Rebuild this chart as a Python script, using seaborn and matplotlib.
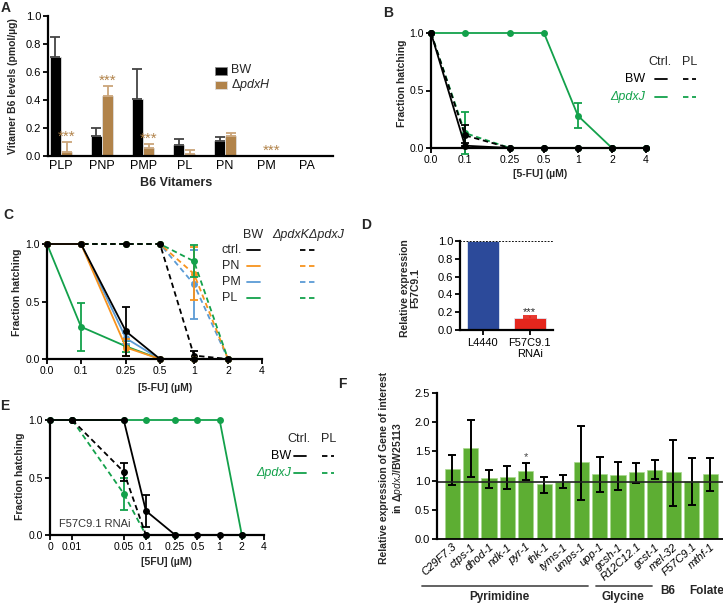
import numpy as np
import pandas as pd
import matplotlib
matplotlib.use("Agg")
import matplotlib.pyplot as plt
import seaborn as sns
from matplotlib.lines import Line2D
from matplotlib.patches import Rectangle

sns.set_theme(style="ticks")
plt.rcParams["font.family"] = ["Liberation Sans", "DejaVu Sans"]
plt.rcParams["mathtext.fontset"] = "custom"
plt.rcParams["mathtext.rm"] = "Liberation Sans"
plt.rcParams["mathtext.it"] = "Liberation Sans:italic"
plt.rcParams["mathtext.bf"] = "Liberation Sans:bold"

# ---------------- data ----------------
# Panel A
vitamers = ["PLP", "PNP", "PMP", "PL", "PN", "PM", "PA"]
a_bw = [0.71, 0.14, 0.41, 0.08, 0.11, 0.005, 0.005]
a_bw_err = [0.14, 0.06, 0.21, 0.04, 0.025, 0.0, 0.0]
a_pdxh = [0.03, 0.43, 0.06, 0.015, 0.145, 0.0, 0.003]
a_pdxh_err = [0.07, 0.07, 0.025, 0.025, 0.02, 0.0, 0.0]
a_stars = ["***", "***", "***", "", "", "***", ""]

# Panel B
b_conc = [0, 0.1, 0.25, 0.5, 1, 2, 4]
b_conc_labels = ["0.0", "0.1", "0.25", "0.5", "1", "2", "4"]
b_bw_ctrl = [1.0, 0.02, 0.0, 0.0, 0.0, 0.0, 0.0]
b_bw_ctrl_err = [0, 0.02, 0, 0, 0, 0, 0]
b_bw_pl = [1.0, 0.11, 0.0, 0.0, 0.0, 0.0, 0.0]
b_bw_pl_err = [0, 0.09, 0, 0, 0, 0, 0]
b_pdxj_ctrl = [1.0, 1.0, 1.0, 1.0, 0.28, 0.0, 0.0]
b_pdxj_ctrl_err = [0, 0, 0, 0, 0.11, 0, 0]
b_pdxj_pl = [1.0, 0.13, 0.0, 0.0, 0.0, 0.0, 0.0]
b_pdxj_pl_err = [0, 0.18, 0, 0, 0, 0, 0]

# Panel C
c_conc = [0, 0.1, 0.25, 0.5, 1, 2]
c_conc_ticks = [0, 0.1, 0.25, 0.5, 1, 2, 4]
c_conc_labels = ["0.0", "0.1", "0.25", "0.5", "1", "2", "4"]
c_bw_ctrl = [1.0, 1.0, 0.24, 0.0, 0.0, 0.0]
c_bw_ctrl_err = [0, 0, 0.21, 0, 0, 0]
c_bw_pn = [1.0, 1.0, 0.10, 0.0, 0.0, 0.0]
c_bw_pn_err = [0, 0, 0.07, 0, 0, 0]
c_bw_pm = [1.0, 1.0, 0.18, 0.0, 0.0, 0.0]
c_bw_pm_err = [0, 0, 0.05, 0, 0, 0]
c_bw_pl = [1.0, 0.28, 0.11, 0.0, 0.0, 0.0]
c_bw_pl_err = [0, 0.21, 0.05, 0, 0, 0]
c_kj_ctrl = [1.0, 1.0, 1.0, 1.0, 0.03, 0.0]
c_kj_ctrl_err = [0, 0, 0, 0, 0.04, 0]
c_kj_pn = [1.0, 1.0, 1.0, 1.0, 0.74, 0.0]
c_kj_pn_err = [0, 0, 0, 0, 0.23, 0]
c_kj_pm = [1.0, 1.0, 1.0, 1.0, 0.65, 0.0]
c_kj_pm_err = [0, 0, 0, 0, 0.30, 0]
c_kj_pl = [1.0, 1.0, 1.0, 1.0, 0.85, 0.0]
c_kj_pl_err = [0, 0, 0, 0, 0.14, 0]

# Panel D
d_groups = ["L4440", "F57C9.1\nRNAi"]
d_values = [1.0, 0.14]
d_err = [0.0, 0.02]

# Panel E
e_conc = [0, 0.01, 0.05, 0.1, 0.25, 0.5, 1, 2]
e_conc_ticks = [0, 0.01, 0.05, 0.1, 0.25, 0.5, 1, 2, 4]
e_conc_labels = ["0", "0.01", "0.05", "0.1", "0.25", "0.5", "1", "2", "4"]
e_bw_ctrl = [1.0, 1.0, 1.0, 0.21, 0.0, 0.0, 0.0, 0.0]
e_bw_ctrl_err = [0, 0, 0, 0.14, 0, 0, 0, 0]
e_bw_pl = [np.nan, 1.0, 0.55, 0.0, np.nan, np.nan, np.nan, np.nan]
e_bw_pl_err = [0, 0, 0.08, 0, 0, 0, 0, 0]
e_pdxj_ctrl = [1.0, 1.0, 1.0, 1.0, 1.0, 1.0, 1.0, 0.0]
e_pdxj_ctrl_err = [0, 0, 0, 0, 0, 0, 0, 0]
e_pdxj_pl = [np.nan, 1.0, 0.36, 0.0, 0.0, np.nan, np.nan, np.nan]
e_pdxj_pl_err = [0, 0, 0.14, 0, 0, 0, 0, 0]

# Panel F
f_genes = ["C29F7.3", "ctps-1", "dhod-1", "ndk-1", "pyr-1", "thk-1", "tyms-1", "umps-1",
           "upp-1", "gcsh-1", "R12C12.1", "gcst-1", "mel-32", "F57C9.1", "mthf-1"]
f_values = [1.20, 1.56, 1.04, 1.07, 1.16, 0.94, 0.98, 1.31, 1.12, 1.09, 1.14, 1.19, 1.15, 1.00, 1.12]
f_low = [0.93, 1.06, 0.87, 0.85, 1.01, 0.78, 0.87, 0.66, 0.81, 0.84, 0.96, 1.02, 0.57, 0.58, 0.82]
f_high = [1.44, 2.03, 1.19, 1.25, 1.30, 1.07, 1.10, 1.93, 1.41, 1.31, 1.30, 1.36, 1.70, 1.39, 1.39]

# ---------------- layout helpers ----------------
W, H = 723, 604
fig = plt.figure(figsize=(W / 100, H / 100), dpi=100)
fig.patch.set_facecolor("white")


def axes_px(x0, y0, x1, y1):
    return fig.add_axes([x0 / W, 1 - y1 / H, (x1 - x0) / W, (y1 - y0) / H])


def ftext(x, y, s, **kw):
    kw.setdefault("ha", "center")
    kw.setdefault("va", "center")
    return fig.text(x / W, 1 - y / H, s, **kw)


def fline(x0, x1, y, **kw):
    fig.add_artist(Line2D([x0 / W, x1 / W], [1 - y / H, 1 - y / H], **kw))


def style_ax(ax, fs=7.5):
    sns.despine(ax=ax)
    for s in ["left", "bottom"]:
        ax.spines[s].set_linewidth(1.6)
        ax.spines[s].set_color("black")
    ax.tick_params(axis="both", labelsize=fs, width=1.3, length=3.5, color="black",
                   pad=1.5, labelcolor="black")
    ax.set_facecolor("white")


def letter(x, y, s):
    ftext(x, y, s, fontsize=10, fontweight="bold")


BLACK = "#000000"
GREEN = "#13a14b"
ORANGE = "#f7931e"
BLUE = "#5b9bd5"
TAN = "#b1834a"


def series(ax, xs, ys, errs, color, ls, xt):
    pos = np.array([xt(x) for x in xs], dtype=float)
    ys = np.array(ys, dtype=float)
    errs = np.array(errs, dtype=float)
    ok = ~np.isnan(ys)
    sns.lineplot(x=pos[ok], y=ys[ok], color=color, linestyle=ls, linewidth=1.3,
                 marker="o", markersize=5, markeredgewidth=0, errorbar=None,
                 sort=False, ax=ax, clip_on=False, legend=False)
    e = ok & (errs > 0)
    if e.any():
        ax.errorbar(pos[e], ys[e], yerr=errs[e], fmt="none", ecolor=color,
                    elinewidth=1.3, capsize=3, capthick=1.3, clip_on=False)


def line_legend(x_text_right, rows, x_solid, x_dash):
    for (label, y, color, kw) in rows:
        ftext(x_text_right, y, label, fontsize=9, ha="right", color=color, **kw)
        fline(x_solid[0], x_solid[1], y, color=color, lw=1.3)
        fline(x_dash[0], x_dash[1], y, color=color, lw=1.3, linestyle=(0, (3, 2)))


# ---------------- Panel A ----------------
axA = axes_px(48, 16, 333, 156)
dfA = pd.DataFrame({
    "vitamer": vitamers * 2,
    "value": a_bw + a_pdxh,
    "strain": ["BW"] * len(vitamers) + ["pdxH"] * len(vitamers),
})
sns.barplot(data=dfA, x="vitamer", y="value", hue="strain", palette=[BLACK, TAN],
            saturation=1, width=0.55, errorbar=None, ax=axA, legend=False,
            edgecolor="#dddddd", linewidth=0.6)
err_cols = ["#444444", "#caa57a"]
for cont, errs, ec in zip(axA.containers, [a_bw_err, a_pdxh_err], err_cols):
    for p, e in zip(cont.patches, errs):
        if e > 0:
            cx = p.get_x() + p.get_width() / 2
            axA.errorbar([cx], [p.get_height()], yerr=[[0], [e]], fmt="none", ecolor=ec,
                         elinewidth=1.3, capsize=3.5, capthick=1.3)
for p, e, s in zip(axA.containers[1].patches, a_pdxh_err, a_stars):
    if s:
        cx = p.get_x() + p.get_width() / 2
        axA.text(cx, p.get_height() + e - 0.01, s, ha="center", va="bottom",
                 color=TAN, fontsize=11)
axA.set_ylim(0, 1.0)
axA.set_xlim(-0.32, 6.63)
axA.set_yticks([0, 0.2, 0.4, 0.6, 0.8, 1.0])
axA.set_yticklabels(["0.0", "0.2", "0.4", "0.6", "0.8", "1.0"])
axA.set_xlabel("")
axA.set_ylabel("")
style_ax(axA, fs=8)
axA.tick_params(axis="x", length=0, labelsize=9, pad=3)
ftext(13, 86, "Vitamer B6 levels (pmol/µg)", rotation=90, fontsize=7.5, fontweight="bold")
ftext(176, 183, "B6 Vitamers", fontsize=9, fontweight="bold")
# legend
fig.add_artist(Rectangle((215 / W, 1 - 74.5 / H), 12 / W, 8 / H, transform=fig.transFigure,
                         facecolor=BLACK, edgecolor="#888888", lw=0.6))
fig.add_artist(Rectangle((215 / W, 1 - 88.5 / H), 12 / W, 8 / H, transform=fig.transFigure,
                         facecolor=TAN, edgecolor="#dddddd", lw=0.6))
ftext(231, 70, "BW", fontsize=9, ha="left")
ftext(231, 85, "Δ$\\it{pdxH}$", fontsize=9, ha="left")
letter(6, 8, "A")

# ---------------- Panel B ----------------
xtB = lambda x: 0.0 if x == 0 else 1 + np.log2(x / 0.1)
axB = axes_px(431, 33, 646, 148)
series(axB, b_conc, b_pdxj_ctrl, b_pdxj_ctrl_err, GREEN, "-", xtB)
series(axB, b_conc, b_pdxj_pl, b_pdxj_pl_err, GREEN, (0, (3, 2)), xtB)
series(axB, b_conc, b_bw_ctrl, b_bw_ctrl_err, BLACK, "-", xtB)
series(axB, b_conc, b_bw_pl, b_bw_pl_err, BLACK, (0, (3, 2)), xtB)
axB.set_xlim(0, xtB(4))
axB.set_ylim(0, 1)
axB.set_xticks([xtB(x) for x in b_conc])
axB.set_xticklabels(b_conc_labels)
axB.set_yticks([0, 0.5, 1.0])
axB.set_yticklabels(["0.0", "0.5", "1.0"])
style_ax(axB)
ftext(402, 83, "Fraction hatching", rotation=90, fontsize=7.5, fontweight="bold")
ftext(540, 174, "[5-FU] (µM)", fontsize=7.5, fontweight="bold")
ftext(660, 62, "Ctrl.", fontsize=9)
ftext(690, 62, "PL", fontsize=9)
line_legend(645, [("BW", 79, BLACK, {}), ("ΔpdxJ", 97, GREEN, {"style": "italic"})],
            (655, 667), (683, 696))
letter(388, 13, "B")

# ---------------- Panel C ----------------
axC = axes_px(47, 244, 262, 359)
xtC = xtB
series(axC, c_conc, c_kj_pm, c_kj_pm_err, BLUE, (0, (3, 2)), xtC)
series(axC, c_conc, c_kj_pn, c_kj_pn_err, ORANGE, (0, (3, 2)), xtC)
series(axC, c_conc, c_kj_pl, c_kj_pl_err, GREEN, (0, (3, 2)), xtC)
series(axC, c_conc, c_kj_ctrl, c_kj_ctrl_err, BLACK, (0, (3, 2)), xtC)
series(axC, c_conc, c_bw_pl, c_bw_pl_err, GREEN, "-", xtC)
series(axC, c_conc, c_bw_pm, c_bw_pm_err, BLUE, "-", xtC)
series(axC, c_conc, c_bw_pn, c_bw_pn_err, ORANGE, "-", xtC)
series(axC, c_conc, c_bw_ctrl, c_bw_ctrl_err, BLACK, "-", xtC)
axC.set_xlim(0, xtC(4))
axC.set_ylim(0, 1)
axC.set_xticks([xtC(x) for x in c_conc_ticks])
axC.set_xticklabels(c_conc_labels)
axC.set_yticks([0, 0.5, 1.0])
axC.set_yticklabels(["0.0", "0.5", "1.0"])
style_ax(axC)
ftext(17, 292, "Fraction hatching", rotation=90, fontsize=7.5, fontweight="bold")
ftext(165, 388, "[5-FU] (µM)", fontsize=7.5, fontweight="bold")
ftext(253, 235, "BW", fontsize=9)
ftext(308, 235, "ΔpdxKΔpdxJ", fontsize=9, style="italic")
for lab, y, col in [("ctrl.", 250, BLACK), ("PN", 266, ORANGE), ("PM", 282, BLUE), ("PL", 298, GREEN)]:
    ftext(222, y, lab, fontsize=9, ha="left")
    fline(247, 260, y, color=col, lw=1.3)
    fline(300, 315, y, color=col, lw=1.3, linestyle=(0, (3, 2)))
letter(8, 215, "C")

# ---------------- Panel D ----------------
axD = axes_px(460, 241, 553, 330)
sns.barplot(x=d_groups, y=d_values, hue=d_groups, palette=["#2c4a9a", "#e5261d"],
            saturation=1, width=0.69, errorbar=None, ax=axD, legend=False,
            edgecolor="#dfe6f2", linewidth=0.6)
axD.errorbar([1], [d_values[1]], yerr=[[0], [d_err[1]]], fmt="none", ecolor="#e5261d",
             elinewidth=1.3, capsize=5, capthick=1.3)
axD.text(1, d_values[1] + d_err[1] - 0.01, "***", ha="center", va="bottom", fontsize=8)
axD.axhline(1.0, color="black", lw=1.3, linestyle=(0, (1, 0.8)))
axD.set_xlim(-0.49, 1.5)
axD.set_ylim(0, 1.0)
axD.set_yticks([0, 0.2, 0.4, 0.6, 0.8, 1.0])
axD.set_yticklabels(["0.0", "0.2", "0.4", "0.6", "0.8", "1.0"])
style_ax(axD, fs=8)
axD.tick_params(axis="x", labelsize=8, pad=2)
ftext(410, 288, "Relative expression\nF57C9.1", rotation=90, fontsize=7.5,
      fontweight="bold", linespacing=1.1)
letter(366, 225, "D")

# ---------------- Panel E ----------------
xtE = lambda x: 0.0 if x == 0 else 1 + np.log2(x / 0.01)
axE = axes_px(50, 420, 264, 535)
series(axE, e_conc, e_pdxj_ctrl, e_pdxj_ctrl_err, GREEN, "-", xtE)
series(axE, e_conc, e_pdxj_pl, e_pdxj_pl_err, GREEN, (0, (3, 2)), xtE)
series(axE, e_conc, e_bw_pl, e_bw_pl_err, BLACK, (0, (3, 2)), xtE)
series(axE, e_conc, e_bw_ctrl, e_bw_ctrl_err, BLACK, "-", xtE)
axE.set_xlim(0, xtE(4))
axE.set_ylim(0, 1)
axE.set_xticks([xtE(x) for x in e_conc_ticks])
axE.set_xticklabels(e_conc_labels)
axE.set_yticks([0, 0.5, 1.0])
axE.set_yticklabels(["0.0", "0.5", "1.0"])
style_ax(axE)
axE.text(0.04, 0.05, "F57C9.1 RNAi", transform=axE.transAxes, fontsize=8, color="#333333",
         ha="left", va="bottom")
ftext(20, 476, "Fraction hatching", rotation=90, fontsize=7.5, fontweight="bold")
ftext(166, 562, "[5FU] (µM)", fontsize=7.5, fontweight="bold")
ftext(299, 439, "Ctrl.", fontsize=9)
ftext(329, 439, "PL", fontsize=9)
line_legend(291, [("BW", 456, BLACK, {}), ("ΔpdxJ", 473, GREEN, {"style": "italic"})],
            (294, 306), (322, 334))
letter(5, 406, "E")

# ---------------- Panel F ----------------
axF = axes_px(437, 393, 723, 539)
sns.barplot(x=f_genes, y=f_values, color="#5dae33", saturation=1, width=0.82,
            errorbar=None, ax=axF, edgecolor="#a9d88e", linewidth=0.5)
fv = np.array(f_values)
axF.errorbar(np.arange(len(f_genes)), fv, yerr=[fv - np.array(f_low), np.array(f_high) - fv],
             fmt="none", ecolor="black", elinewidth=1.4, capsize=3.2, capthick=1.4)
axF.text(4, f_high[4] + 0.02, "*", ha="center", va="bottom", fontsize=8, color="#444444")
axF.axhline(0.98, color="#222222", lw=1.2)
axF.set_xlim(-0.82, 14.7)
axF.set_ylim(0, 2.5)
axF.set_yticks([0, 0.5, 1.0, 1.5, 2.0, 2.5])
axF.set_yticklabels(["0.0", "0.5", "1.0", "1.5", "2.0", "2.5"])
style_ax(axF, fs=8)
axF.spines["bottom"].set_linewidth(1.3)
axF.tick_params(axis="x", length=0, pad=2)
axF.set_xticks(range(len(f_genes)))
axF.set_xticklabels(f_genes, rotation=42, ha="right", rotation_mode="anchor",
                    fontsize=8, style="italic")
ftext(392, 468, "Relative expression of Gene of interest\nin Δ$\\it{pdxJ}$/BW25113",
      rotation=90, fontsize=7.5, fontweight="bold", linespacing=1.2)
fline(422, 588, 586, color="#555555", lw=1.3)
fline(596, 652, 586, color="#555555", lw=1.3)
ftext(499, 597, "Pyrimidine", fontsize=8.5, fontweight="bold")
ftext(623, 597, "Glycine", fontsize=8.5, fontweight="bold")
ftext(668, 591, "B6", fontsize=8.5, fontweight="bold")
ftext(707, 591, "Folate", fontsize=8.5, fontweight="bold")
letter(342, 384, "F")

fig.savefig("out.png", dpi=100, facecolor="white")
